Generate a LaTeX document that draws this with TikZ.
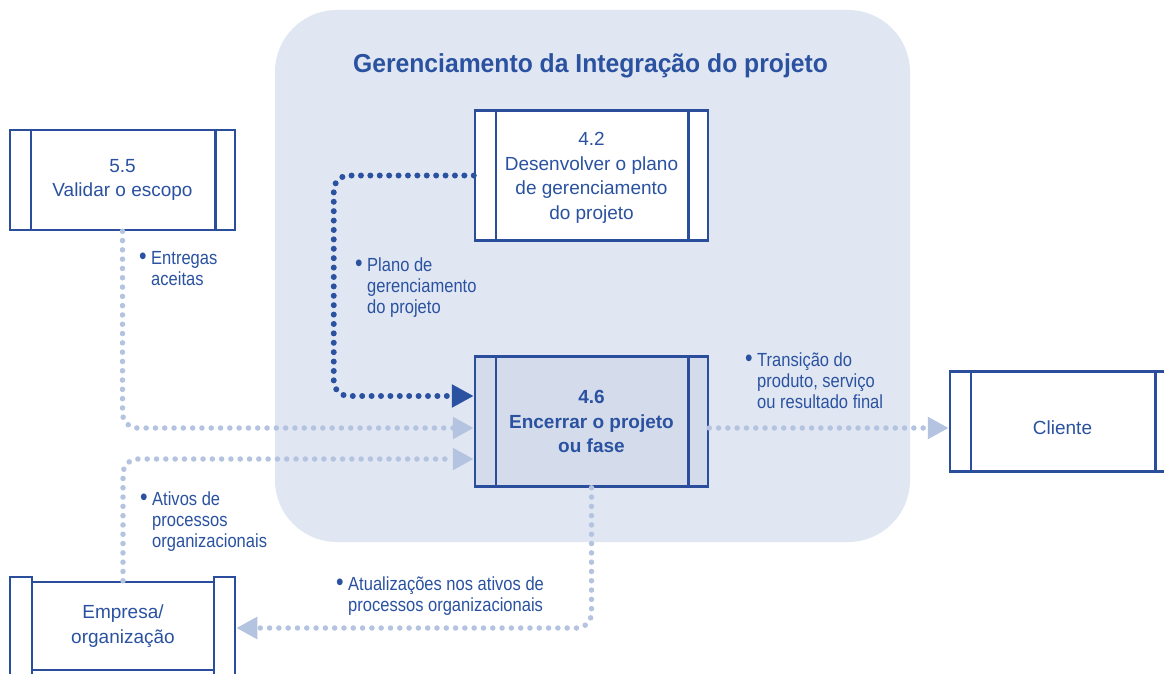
\documentclass[tikz,border=0pt]{standalone}
\usepackage{fontspec}
\setmainfont{Liberation Sans}
\newfontfamily\lblfont[FakeStretch=0.87]{Liberation Sans}
\newfontfamily\ttlfont[FakeStretch=0.95]{Liberation Sans}
\usetikzlibrary{arrows.meta}
\definecolor{dkblue}{HTML}{2A52A0}
\definecolor{boxblue}{HTML}{2B4E9C}
\definecolor{ltblue}{HTML}{B3C3E0}
\definecolor{bgblue}{HTML}{E1E7F2}
\definecolor{fillsel}{HTML}{D4DCEB}
\tikzset{
  procbox/.style={draw=boxblue, line width=2.5pt, fill=white, text=dkblue,
    align=center, inner sep=0pt, font=\fontsize{19}{24.5}\selectfont},
  boxline/.style={draw=boxblue, line width=2.5pt},
  lbl/.style={text=dkblue, inner sep=0pt, anchor=base west,
    font=\lblfont\fontsize{19}{21}\selectfont},
  ttl/.style={text=dkblue, inner sep=0pt, anchor=base,
    font=\ttlfont\bfseries\fontsize{26}{30}\selectfont},
  darkflow/.style={draw=dkblue, line width=6pt, line cap=round,
    dash pattern=on 0pt off 9.4pt, rounded corners=15pt,
    -{Triangle[length=22pt 0 0, width=22pt 0 0]}},
  lightflow/.style={draw=ltblue, line width=5.5pt, line cap=round,
    dash pattern=on 0pt off 9.3pt, rounded corners=15pt,
    -{Triangle[length=21pt 0 0, width=21pt 0 0]}}
}
\newcommand{\bul}{\makebox[12pt][l]{\scalebox{1.3}{\textbullet}}}
\begin{document}
\begin{tikzpicture}[x=1pt,y=-1pt]
\useasboundingbox (0,0) rectangle (1164,674);
\fill[white] (0,0) rectangle (1164,674);
% background group
\fill[bgblue, rounded corners=62pt] (275,10) rectangle (910,542);
\node[ttl] (title) at (590.5,73) {Gerenciamento da Integração do projeto};

% boxes
\node[procbox, minimum width=225pt, minimum height=100pt] (v55) at (122.5,180) {5.5\\Validar o escopo};
\node[procbox, minimum width=233pt, minimum height=130pt] (d42) at (591.5,175.5) {\raisebox{-2pt}[\height][\depth]{\begin{tabular}{@{}c@{}}4.2\\Desenvolver o plano\\de gerenciamento\\do projeto\end{tabular}}};
\node[procbox, fill=fillsel, minimum width=233pt, minimum height=130pt,
  font=\bfseries\fontsize{19}{24.5}\selectfont] (e46) at (591.5,421.5) {4.6\\Encerrar o projeto\\ou fase};
\node[procbox, minimum width=225pt, minimum height=100pt] (cli) at (1062.5,421.5) {\raisebox{-6pt}[\height][\depth]{Cliente}};
\foreach \n in {v55,d42,e46,cli}{
  \draw[boxline] ([xshift=22pt]\n.north west) -- ([xshift=22pt]\n.south west);
  \draw[boxline] ([xshift=-21pt]\n.north east) -- ([xshift=-21pt]\n.south east);
}
% Empresa box (side strips raised)
\draw[boxline, fill=white] (10,577) rectangle (32,700);
\draw[boxline, fill=white] (214,577) rectangle (235,700);
\node[procbox, minimum width=182pt, minimum height=88pt] (emp) at (123,626) {Empresa/\\organização};

% connectors
\draw[darkflow] (d42.west) -- ++(-140,0) |- ([yshift=25.5pt]e46.west);
\draw[lightflow] (v55.south) |- ([yshift=-6.5pt]e46.west);
\draw[lightflow] (emp.north) |- ([yshift=-37.5pt]e46.west);
\draw[lightflow] ([yshift=-6.5pt]e46.east) -- ([yshift=-6.5pt]cli.west);
\draw[lightflow] (e46.south) |- ([xshift=21pt,yshift=-2pt]emp.east);

% labels
\node[lbl] (lEnt) at (139,264) {\bul\begin{tabular}[t]{@{}l@{}}Entregas\\aceitas\end{tabular}};
\node[lbl] (lPla) at (355,271) {\bul\begin{tabular}[t]{@{}l@{}}Plano de\\gerenciamento\\do projeto\end{tabular}};
\node[lbl] (lTra) at (745,366) {\bul\begin{tabular}[t]{@{}l@{}}Transição do\\produto, serviço\\ou resultado final\end{tabular}};
\node[lbl] (lAti) at (140,505) {\bul\begin{tabular}[t]{@{}l@{}}Ativos de\\processos\\organizacionais\end{tabular}};
\node[lbl] (lAtu) at (336,590) {\bul\begin{tabular}[t]{@{}l@{}}Atualizações nos ativos de\\processos organizacionais\end{tabular}};
\end{tikzpicture}
\end{document}
